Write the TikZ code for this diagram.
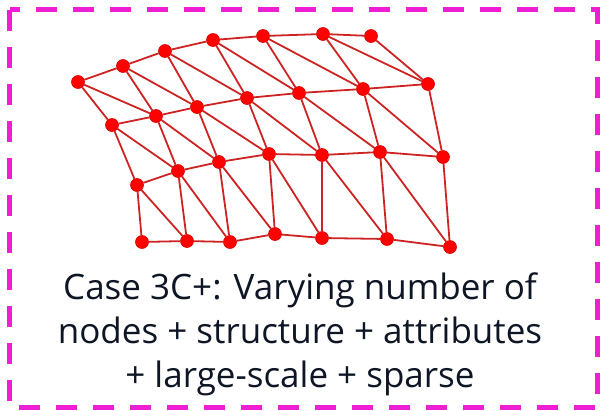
\documentclass[tikz,border=0pt]{standalone}
\usepackage{fontspec}
\setmainfont{Open Sans}
\usetikzlibrary{positioning}
\definecolor{mesh-red}{RGB}{255,0,0}
\definecolor{mesh-edge}{RGB}{205,35,35}
\definecolor{frame-magenta}{RGB}{238,30,210}
\definecolor{caption-dark}{RGB}{14,22,38}

\begin{document}
\begin{tikzpicture}[
  x=1pt, y=-1pt,
  vertex/.style={circle, fill=mesh-red, draw=mesh-red!85!black, line width=0.6pt, inner sep=0pt, minimum size=13pt},
  link/.style={draw=mesh-edge, line width=1.8pt},
  frame/.style={draw=frame-magenta, line width=5pt, dash pattern=on 21pt off 16pt},
  caption/.style={font=\fontsize{35}{44}\selectfont, text=caption-dark, align=center},
]
  \useasboundingbox (0,0) rectangle (600,410);
  \draw[frame] (9.5,9.5) rectangle (597.5,407);

  % mesh vertices, four rows of seven
  \foreach \c/\x/\y in {1/78/82, 2/123/66, 3/165/51, 4/213/40, 5/263/36, 6/323/34, 7/371/36}
    \node[vertex] (a\c) at (\x,\y) {};
  \foreach \c/\x/\y in {1/112/125, 2/156/116, 3/197/107, 4/247/98, 5/299/93, 6/363/89, 7/428/84}
    \node[vertex] (b\c) at (\x,\y) {};
  \foreach \c/\x/\y in {1/137/185, 2/178/171, 3/219/162, 4/269/154, 5/322/155, 6/380/152, 7/443/157}
    \node[vertex] (c\c) at (\x,\y) {};
  \foreach \c/\x/\y in {1/142/242, 2/187/241, 3/230/242, 4/275/234, 5/322/238, 6/387/239, 7/450/247}
    \node[vertex] (d\c) at (\x,\y) {};

  % edges: along rows, down, and down-right
  \foreach \row in {a,b,c,d} {
    \foreach \c [count=\n from 2] in {1,...,6} {
      \draw[link] (\row\c) -- (\row\n);
    }
  }
  \foreach \row/\next in {a/b, b/c, c/d} {
    \foreach \c in {1,...,7}
      \draw[link] (\row\c) -- (\next\c);
    \foreach \c [count=\n from 2] in {1,...,6}
      \draw[link] (\row\c) -- (\next\n);
  }

  \node[caption] (label) at (300,334) {Case 3C+: Varying number of\\nodes + structure + attributes\\+ large-scale + sparse};
\end{tikzpicture}
\end{document}
